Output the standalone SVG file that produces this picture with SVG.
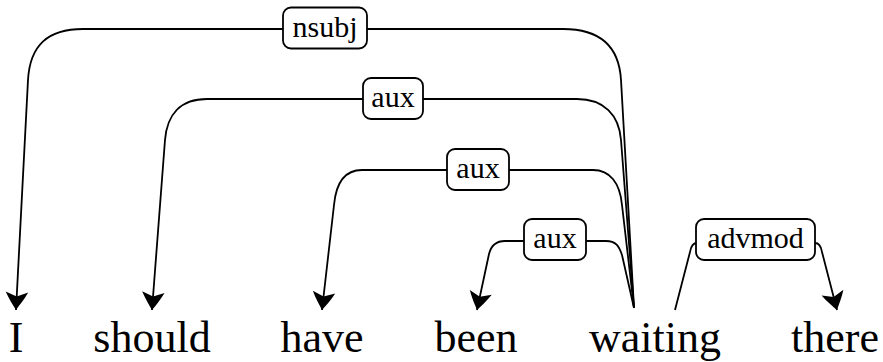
<svg xmlns="http://www.w3.org/2000/svg" width="883" height="362" viewBox="0 0 883 362">
<style>
.word{font-family:'Liberation Serif',Tinos,'Times New Roman','DejaVu Serif',serif;font-size:44px;fill:#000;text-anchor:middle}
.lbl{font-family:'Liberation Serif',Tinos,'Times New Roman','DejaVu Serif',serif;font-size:30px;fill:#000;text-anchor:middle}
.box{fill:#fff;stroke:#000;stroke-width:1.8}
.edge{fill:none;stroke:#000;stroke-width:1.8}
</style>
<defs>
<marker id="arr" markerUnits="userSpaceOnUse" markerWidth="30" markerHeight="30" viewBox="-15 -10 20 20" refX="0" refY="0" orient="auto" overflow="visible">
<path d="M0,0 C-3,-2 -7,-5 -12,-7.5 L-9,0 L-12,7.5 C-7,5 -3,2 0,0 Z" fill="#000"/>
</marker>
</defs>
<rect width="883" height="362" fill="#fff"/>
<g id="connectors">
<path class="edge" marker-end="url(#arr)" d="M634,308 L621,80 C619,45 598,29 563,29 L83,29 C48,29 30,45 28,80 L16,310"/>
<path class="edge" marker-end="url(#arr)" d="M634,308 L621,140 C619,115 604,99 577,99 L207,99 C180,99 167,115 165,140 L152,310"/>
<path class="edge" marker-end="url(#arr)" d="M634,308 L622,205 C620,183 610,170 593,170 L362,170 C345,170 336,183 334,205 L322,310"/>
<path class="edge" marker-end="url(#arr)" d="M634,308 L622,255 C619,246 616,241 606,241 L505,241 C496,241 491,246 489,254 L477,310"/>
<path class="edge" marker-end="url(#arr)" d="M675,310 L690,252 C691,246 693,243 697,243 L815,243 C819,243 821,246 822,252 L837,310"/>
</g>
<g id="label-nsubj"><rect class="box" x="283" y="7.5" width="84" height="41" rx="8"/><text class="lbl" x="325" y="37" font-family="Liberation Serif, serif">nsubj</text></g>
<g id="label-aux1"><rect class="box" x="363" y="78" width="60" height="41" rx="8"/><text class="lbl" x="393" y="107">aux</text></g>
<g id="label-aux2"><rect class="box" x="447" y="149" width="62" height="41" rx="8"/><text class="lbl" x="478" y="178">aux</text></g>
<g id="label-aux3"><rect class="box" x="524" y="219" width="62" height="41" rx="8"/><text class="lbl" x="555" y="248">aux</text></g>
<g id="label-advmod"><rect class="box" x="696" y="219" width="119" height="41" rx="8"/><text class="lbl" x="755.5" y="248">advmod</text></g>
<g id="w-I"><text class="word" x="16" y="352">I</text></g>
<g id="w-should"><text class="word" x="152" y="352">should</text></g>
<g id="w-have"><text class="word" x="322" y="352">have</text></g>
<g id="w-been"><text class="word" x="476" y="352">been</text></g>
<g id="w-waiting"><text class="word" x="655" y="352">waiting</text></g>
<g id="w-there"><text class="word" x="835" y="352">there</text></g>
</svg>
